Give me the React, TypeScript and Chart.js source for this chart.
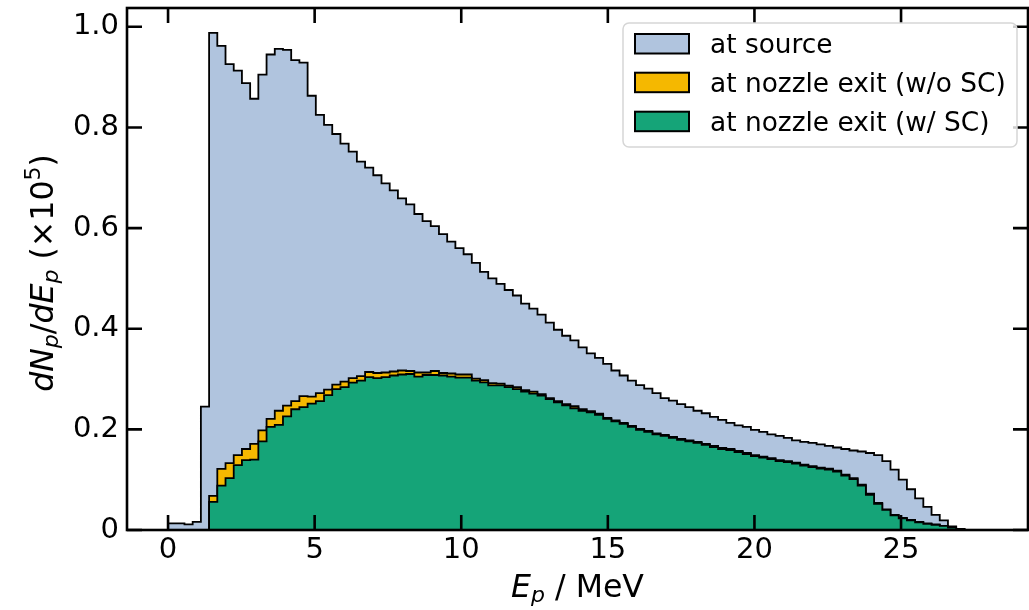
import React, { useEffect, useRef } from "react";
import { Chart, registerables } from "chart.js";

Chart.register(...registerables);

// Histogram binning (MeV)
const BIN_START = 0;
const BIN_WIDTH = 0.28;

// dN/dE at source (x1e5)
const sourceValues = [
  0.013, 0.013, 0.011, 0.016, 0.245, 0.988, 0.962, 0.926, 0.913, 0.888,
  0.857, 0.905, 0.945, 0.956, 0.954, 0.934, 0.929, 0.863, 0.825, 0.805,
  0.787, 0.768, 0.752, 0.732, 0.720, 0.705, 0.689, 0.675, 0.659, 0.647,
  0.628, 0.614, 0.604, 0.588, 0.573, 0.560, 0.548, 0.531, 0.513, 0.500,
  0.489, 0.477, 0.466, 0.450, 0.440, 0.428, 0.412, 0.398, 0.386, 0.377,
  0.363, 0.351, 0.342, 0.330, 0.317, 0.307, 0.297, 0.288, 0.281, 0.272,
  0.262, 0.257, 0.250, 0.244, 0.237, 0.232, 0.225, 0.219, 0.213, 0.208,
  0.205, 0.199, 0.195, 0.190, 0.187, 0.183, 0.178, 0.175, 0.173, 0.170,
  0.167, 0.164, 0.161, 0.158, 0.156, 0.153, 0.149, 0.137, 0.120, 0.100,
  0.081, 0.063, 0.046, 0.030, 0.019, 0.007, 0.002, 0, 0, 0,
];

// at nozzle exit without space charge
const noScValues = [
  0, 0, 0, 0, 0, 0.068, 0.1215, 0.133, 0.149, 0.161,
  0.171, 0.198, 0.221, 0.237, 0.247, 0.256, 0.266, 0.265, 0.272, 0.279,
  0.289, 0.295, 0.302, 0.306, 0.314, 0.312, 0.313, 0.315, 0.317, 0.316,
  0.313, 0.313, 0.316, 0.312, 0.311, 0.309, 0.309, 0.301, 0.298, 0.292,
  0.291, 0.287, 0.284, 0.278, 0.275, 0.270, 0.262, 0.256, 0.250, 0.246,
  0.240, 0.236, 0.231, 0.223, 0.218, 0.213, 0.207, 0.201, 0.197, 0.192,
  0.189, 0.185, 0.181, 0.178, 0.175, 0.171, 0.167, 0.163, 0.161, 0.157,
  0.153, 0.149, 0.146, 0.143, 0.139, 0.137, 0.134, 0.130, 0.127, 0.124,
  0.122, 0.118, 0.110, 0.103, 0.090, 0.072, 0.054, 0.041, 0.030, 0.024,
  0.020, 0.016, 0.013, 0.011, 0.008, 0.005, 0.002, 0, 0, 0,
];

// at nozzle exit with space charge
const withScValues = [
  0, 0, 0, 0, 0, 0.056, 0.088, 0.103, 0.129, 0.139,
  0.140, 0.176, 0.205, 0.209, 0.226, 0.240, 0.244, 0.251, 0.256, 0.268,
  0.280, 0.284, 0.293, 0.297, 0.304, 0.302, 0.304, 0.307, 0.309, 0.310,
  0.305, 0.308, 0.308, 0.307, 0.305, 0.303, 0.303, 0.297, 0.2935, 0.2875,
  0.2875, 0.284, 0.280, 0.275, 0.271, 0.267, 0.260, 0.2535, 0.2476, 0.242,
  0.237, 0.234, 0.229, 0.221, 0.216, 0.211, 0.205, 0.199, 0.195, 0.190,
  0.187, 0.183, 0.179, 0.176, 0.173, 0.169, 0.165, 0.161, 0.159, 0.155,
  0.151, 0.147, 0.144, 0.141, 0.137, 0.135, 0.132, 0.128, 0.125, 0.122,
  0.120, 0.116, 0.108, 0.101, 0.088, 0.070, 0.052, 0.040, 0.029, 0.023,
  0.019, 0.015, 0.012, 0.010, 0.008, 0.005, 0.002, 0, 0, 0,
];

const seriesLabels = ["at source", "at nozzle exit (w/o SC)", "at nozzle exit (w/ SC)"];
const seriesColors = ["#b0c4de", "#f5b800", "#15a478"];

const X_MIN = -1.4;
const X_MAX = 29.33;
const Y_MIN = 0;
const Y_MAX = 1.0374;
const xTickStep = 5;
const yTickStep = 0.2;

const FONT = "'DejaVu Sans', sans-serif";
const TICK_FONT = 29;
const LABEL_FONT = 31.6;
const SUB_FONT = 22;
const LEGEND_FONT = 26.4;

function toSteps(values: number[]) {
  const pts: { x: number; y: number }[] = [{ x: BIN_START, y: 0 }];
  values.forEach((v, i) => pts.push({ x: BIN_START + i * BIN_WIDTH, y: v }));
  pts.push({ x: BIN_START + values.length * BIN_WIDTH, y: 0 });
  return pts;
}

type Part = { t: string; italic?: boolean; size: number; dy: number };

function drawParts(ctx: CanvasRenderingContext2D, parts: Part[], x: number, y: number) {
  let cx = x;
  for (const p of parts) {
    ctx.font = `${p.italic ? "italic " : ""}${p.size}px ${FONT}`;
    ctx.fillText(p.t, cx, y + p.dy);
    cx += ctx.measureText(p.t).width;
  }
}
function measureParts(ctx: CanvasRenderingContext2D, parts: Part[]) {
  let w = 0;
  for (const p of parts) {
    ctx.font = `${p.italic ? "italic " : ""}${p.size}px ${FONT}`;
    w += ctx.measureText(p.t).width;
  }
  return w;
}

const decorPlugin = {
  id: "decor",
  afterDatasetsDraw(chart: any) {
    const { ctx, chartArea, scales } = chart;
    const { left, right, top, bottom } = chartArea;
    const xs = scales.x;
    const ys = scales.y;
    ctx.save();
    ctx.strokeStyle = "#000";
    ctx.lineWidth = 2.6;
    ctx.lineCap = "butt";
    const TL = 15;
    xs.ticks.forEach((t: any) => {
      const px = xs.getPixelForValue(t.value);
      ctx.beginPath();
      ctx.moveTo(px, bottom);
      ctx.lineTo(px, bottom - TL);
      ctx.moveTo(px, top);
      ctx.lineTo(px, top + TL);
      ctx.stroke();
    });
    ys.ticks.forEach((t: any) => {
      const py = ys.getPixelForValue(t.value);
      ctx.beginPath();
      ctx.moveTo(left, py);
      ctx.lineTo(left + TL, py);
      ctx.moveTo(right, py);
      ctx.lineTo(right - TL, py);
      ctx.stroke();
    });
    ctx.strokeRect(left, top, right - left, bottom - top);
    ctx.restore();
  },
  afterDraw(chart: any) {
    const { ctx, chartArea } = chart;
    const { left, right, top, bottom } = chartArea;
    ctx.save();
    ctx.fillStyle = "#000";
    ctx.textBaseline = "alphabetic";
    ctx.textAlign = "left";

    // x-axis title
    const xParts: Part[] = [
      { t: "E", italic: true, size: LABEL_FONT, dy: 0 },
      { t: "p", italic: true, size: SUB_FONT, dy: 5 },
      { t: " / MeV", size: LABEL_FONT, dy: 0 },
    ];
    const xw = measureParts(ctx, xParts);
    drawParts(ctx, xParts, (left + right) / 2 - xw / 2, 597);

    // y-axis title
    const yParts: Part[] = [
      { t: "dN", italic: true, size: LABEL_FONT, dy: 0 },
      { t: "p", italic: true, size: SUB_FONT, dy: 5 },
      { t: "/", size: LABEL_FONT, dy: 0 },
      { t: "dE", italic: true, size: LABEL_FONT, dy: 0 },
      { t: "p", italic: true, size: SUB_FONT, dy: 5 },
      { t: " (×10", size: LABEL_FONT, dy: 0 },
      { t: "5", size: SUB_FONT, dy: -13 },
      { t: ")", size: LABEL_FONT, dy: 0 },
    ];
    const yw = measureParts(ctx, yParts);
    ctx.save();
    ctx.translate(53, (top + bottom) / 2 + 4);
    ctx.rotate(-Math.PI / 2);
    drawParts(ctx, yParts, -yw / 2, 0);
    ctx.restore();

    // legend
    const lx = 623, ly = 23, lw = 394, lh = 124, r = 6;
    ctx.beginPath();
    ctx.moveTo(lx + r, ly);
    ctx.arcTo(lx + lw, ly, lx + lw, ly + lh, r);
    ctx.arcTo(lx + lw, ly + lh, lx, ly + lh, r);
    ctx.arcTo(lx, ly + lh, lx, ly, r);
    ctx.arcTo(lx, ly, lx + lw, ly, r);
    ctx.closePath();
    ctx.fillStyle = "rgba(255,255,255,0.8)";
    ctx.fill();
    ctx.strokeStyle = "#d6d6d6";
    ctx.lineWidth = 1.5;
    ctx.stroke();

    const rowTop = [34, 72.7, 111.7];
    const rowBase = [53.3, 91.7, 130.7];
    seriesLabels.forEach((lab, i) => {
      ctx.fillStyle = seriesColors[i];
      ctx.fillRect(635, rowTop[i], 54, 19.5);
      ctx.strokeStyle = "#000";
      ctx.lineWidth = 2;
      ctx.strokeRect(635, rowTop[i], 54, 19.5);
      ctx.fillStyle = "#000";
      ctx.font = `${LEGEND_FONT}px ${FONT}`;
      ctx.textBaseline = "alphabetic";
      ctx.fillText(lab, 710, rowBase[i]);
    });
    ctx.restore();
  },
};

export default function App() {
  const canvasRef = useRef<HTMLCanvasElement | null>(null);

  useEffect(() => {
    if (!canvasRef.current) return;
    const mk = (idx: number, values: number[], order: number) => ({
      label: seriesLabels[idx],
      data: toSteps(values),
      stepped: "before" as const,
      fill: "origin",
      backgroundColor: seriesColors[idx],
      borderColor: "#000",
      borderWidth: 1.8,
      pointRadius: 0,
      order,
    });
    const chart = new Chart(canvasRef.current, {
      type: "line",
      data: {
        datasets: [mk(0, sourceValues, 3), mk(1, noScValues, 2), mk(2, withScValues, 1)] as any,
      },
      options: {
        animation: false,
        responsive: false,
        layout: { padding: { top: 8, right: 1, left: 0, bottom: 0 } },
        plugins: { legend: { display: false }, tooltip: { enabled: false } },
        scales: {
          x: {
            type: "linear",
            min: X_MIN,
            max: X_MAX,
            grid: { display: false, drawTicks: false },
            border: { display: false },
            ticks: {
              stepSize: xTickStep,
              includeBounds: false,
              color: "#000",
              font: { family: FONT, size: TICK_FONT },
              padding: 3,
              maxRotation: 0,
              autoSkip: false,
              callback: (v: any) => String(v),
            },
            afterFit: (s: any) => {
              s.height = 80;
              s.paddingLeft = 0;
              s.paddingRight = 0;
            },
          },
          y: {
            type: "linear",
            min: Y_MIN,
            max: Y_MAX,
            grid: { display: false, drawTicks: false },
            border: { display: false },
            ticks: {
              stepSize: yTickStep,
              includeBounds: false,
              color: "#000",
              font: { family: FONT, size: TICK_FONT },
              padding: 8,
              autoSkip: false,
              callback: (v: any) => (Math.abs(v) < 1e-9 ? "0" : Number(v).toFixed(1)),
            },
            afterFit: (s: any) => {
              s.width = 127;
              s.paddingTop = 0;
              s.paddingBottom = 0;
            },
          },
        },
      },
      plugins: [decorPlugin],
    });
    return () => chart.destroy();
  }, []);

  return (
    <div style={{ position: "fixed", left: 0, top: 0, width: 1029, height: 610, background: "#fff" }}>
      <canvas ref={canvasRef} width={1029} height={610} style={{ display: "block" }} />
    </div>
  );
}
